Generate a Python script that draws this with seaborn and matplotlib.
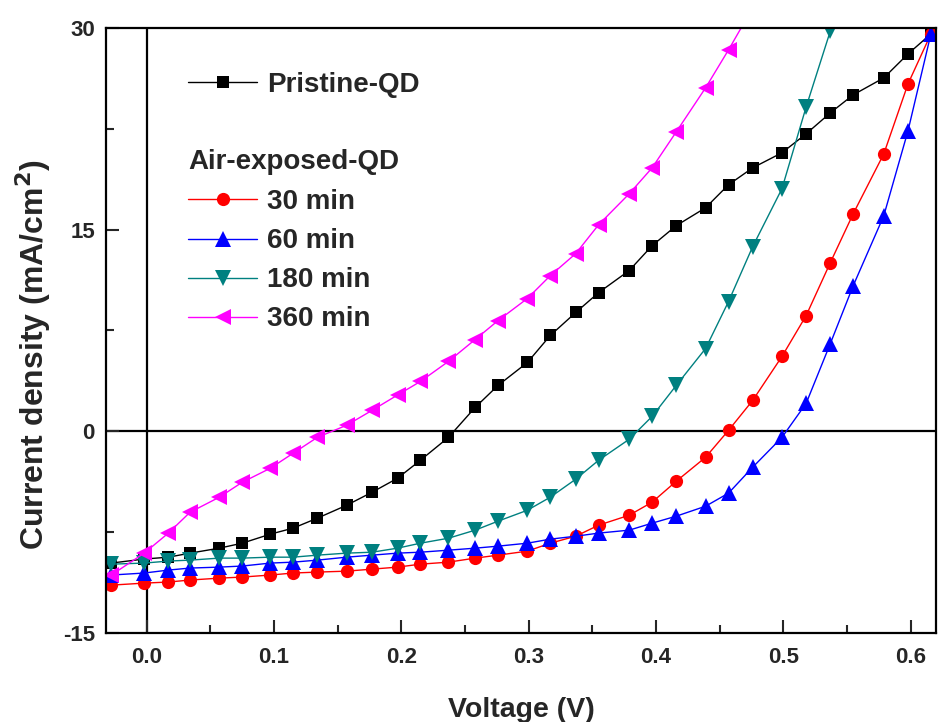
import matplotlib
matplotlib.use("Agg")
import matplotlib.pyplot as plt
from matplotlib.lines import Line2D
from matplotlib.ticker import MultipleLocator
import numpy as np
import pandas as pd
import seaborn as sns

# ---------------- data ----------------
voltage = [-0.028, -0.002, 0.017, 0.034, 0.057, 0.075, 0.097, 0.115, 0.134,
           0.157, 0.177, 0.197, 0.215, 0.237, 0.258, 0.276, 0.299, 0.317,
           0.337, 0.355, 0.379, 0.397, 0.416, 0.439, 0.457, 0.476, 0.499,
           0.518, 0.537, 0.555, 0.579, 0.598, 0.616]

pristine = [-9.8, -9.5, -9.36, -9.06, -8.69, -8.32, -7.65, -7.2, -6.46,
            -5.5, -4.53, -3.49, -2.15, -0.45, 1.78, 3.42, 5.12, 7.13,
            8.84, 10.32, 11.96, 13.81, 15.3, 16.63, 18.34, 19.6, 20.72,
            22.13, 23.69, 25.03, 26.29, 28.07, 29.56]

air_30 = [-11.44, -11.29, -11.21, -11.06, -10.92, -10.84, -10.69, -10.54, -10.47,
          -10.4, -10.25, -10.1, -9.88, -9.73, -9.43, -9.21, -8.91, -8.32,
          -7.8, -6.98, -6.24, -5.27, -3.71, -1.93, 0.07, 2.3, 5.57,
          8.61, 12.55, 16.19, 20.64, 25.84, 29.56]

air_60 = [-10.69, -10.54, -10.32, -10.17, -10.1, -10.02, -9.8, -9.73, -9.58,
          -9.36, -9.21, -9.06, -8.99, -8.84, -8.69, -8.54, -8.32, -8.02,
          -7.8, -7.57, -7.35, -6.83, -6.31, -5.57, -4.6, -2.67, -0.45,
          2.08, 6.53, 10.84, 16.04, 22.35, 29.56]

air_180 = [-9.88, -9.8, -9.65, -9.58, -9.43, -9.43, -9.36, -9.36, -9.21,
           -9.06, -8.99, -8.69, -8.32, -7.95, -7.35, -6.68, -5.87, -4.9,
           -3.56, -2.15, -0.59, 1.11, 3.42, 6.16, 9.65, 13.74, 18.05,
           24.13, 29.78]

air_360 = [-10.7, -9.06, -7.57, -6.02, -4.9, -3.79, -2.75, -1.63, -0.45,
           0.45, 1.56, 2.7, 3.71, 5.2, 6.83, 8.24, 9.88, 11.58,
           13.22, 15.37, 17.67, 19.6, 22.28, 25.55, 28.37, 31.5]

series_names = ["Pristine-QD", "30 min", "60 min", "180 min", "360 min"]
series_values = [pristine, air_30, air_60, air_180, air_360]
legend_header = "Air-exposed-QD"
x_label = "Voltage (V)"
y_label = "Current density (mA/cm$^2$)"
x_ticks = [0.0, 0.1, 0.2, 0.3, 0.4, 0.5, 0.6]
y_ticks = [-15, 0, 15, 30]

# ---------------- styles ----------------
colors = {"Pristine-QD": "black", "30 min": "#ff0000", "60 min": "#0000ff",
          "180 min": "#008080", "360 min": "#ff00ff"}
markers = {"Pristine-QD": "s", "30 min": "o", "60 min": "^",
           "180 min": "v", "360 min": "<"}
msizes = {"Pristine-QD": 9.0, "30 min": 9.5, "60 min": 11.0,
          "180 min": 11.0, "360 min": 11.0}

rows = []
for name, vals in zip(series_names, series_values):
    for v, j in zip(voltage, vals):
        rows.append({"Voltage": v, "J": j, "Sample": name})
df = pd.DataFrame(rows)

sns.set_theme(style="ticks")
plt.rcParams["font.family"] = ["Liberation Sans", "DejaVu Sans"]
plt.rcParams["font.weight"] = "bold"
plt.rcParams["mathtext.default"] = "bf"

fig = plt.figure(figsize=(9.38, 7.22), dpi=100)
ax = fig.add_axes([106 / 938, 1 - 633 / 722, 830 / 938, 605 / 722])

for name in series_names:
    sub = df[df["Sample"] == name]
    sns.lineplot(data=sub, x="Voltage", y="J", ax=ax, sort=False,
                 color=colors[name], marker=markers[name],
                 markersize=msizes[name], markeredgewidth=0,
                 linewidth=1.0, legend=False, estimator=None)

ax.axhline(0, color="black", lw=1.6, zorder=0.5)
ax.axvline(0, color="black", lw=1.6, zorder=0.5)

ax.set_xlim(-0.032, 0.62)
ax.set_ylim(-15, 30)
ax.set_xticks(x_ticks)
ax.set_xticklabels([f"{t:.1f}" for t in x_ticks])
ax.set_yticks(y_ticks)
ax.set_yticklabels([str(t) for t in y_ticks])
ax.xaxis.set_minor_locator(MultipleLocator(0.05))
ax.yaxis.set_minor_locator(MultipleLocator(7.5))
ax.tick_params(which="major", direction="in", length=9.5, width=1.5,
               labelsize=16, pad=8, top=False, right=False)
ax.tick_params(which="minor", direction="in", length=5.5, width=1.5,
               top=False, right=False)
ax.tick_params(axis="x", which="major", pad=10)
for lab in ax.get_xticklabels() + ax.get_yticklabels():
    lab.set_fontweight("bold")
for sp in ax.spines.values():
    sp.set_linewidth(1.6)
    sp.set_color("black")

ax.set_xlabel(x_label, fontsize=20.5, fontweight="bold")
ax.xaxis.set_label_coords(0.5, -(710 - 633) / 605, transform=ax.transAxes)
ax.xaxis.label.set_va("center")
ax.set_ylabel(y_label, fontsize=23, fontweight="bold")
ax.yaxis.set_label_coords(-(106 - 33) / 830, (633 - 355) / 605,
                          transform=ax.transAxes)
ax.yaxis.label.set_va("center")

# legend
handles = []
labels = []
for name in series_names[:1]:
    handles.append(Line2D([], [], color=colors[name], marker=markers[name],
                          markersize=msizes[name], markeredgewidth=0, lw=1.0))
    labels.append(name)
for _ in range(2):
    handles.append(Line2D([], [], color="none"))
    labels.append(" ")
for name in series_names[1:]:
    handles.append(Line2D([], [], color=colors[name], marker=markers[name],
                          markersize=msizes[name], markeredgewidth=0, lw=1.0))
    labels.append(name)
leg = ax.legend(handles, labels, loc="upper left",
                bbox_to_anchor=((188 - 106) / 830, (633 - 72) / 605),
                frameon=False, handlelength=2.5,
                handletextpad=0.36, labelspacing=0.47, borderpad=0,
                borderaxespad=0, prop={"weight": "bold", "size": 20})
ax.text((188 - 106) / 830, (633 - 162) / 605, legend_header,
        transform=ax.transAxes, fontsize=20, fontweight="bold",
        va="center", ha="left")

fig.savefig("out.png", dpi=100)
